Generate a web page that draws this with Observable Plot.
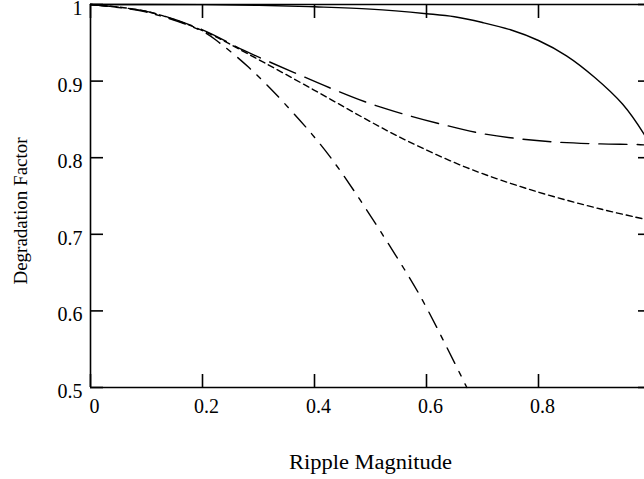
<!DOCTYPE html>
<html><head><meta charset="utf-8">
<script src="https://cdn.jsdelivr.net/npm/d3@7"></script>
<script src="https://cdn.jsdelivr.net/npm/@observablehq/plot@0.6"></script>
<style>html,body{margin:0;padding:0;background:#fff;overflow:hidden}</style>
</head><body><div id="chart"></div>
<script>
const xTicks = [0, 0.2, 0.4, 0.6, 0.8];
const yTicks = [0.5, 0.6, 0.7, 0.8, 0.9, 1];
const xLabel = "Ripple Magnitude";
const yLabel = "Degradation Factor";

// solid
const solidX = [0, 0.1, 0.2, 0.3, 0.4, 0.5, 0.6, 0.65, 0.7, 0.75, 0.8, 0.85, 0.9, 0.95, 0.989, 1];
const solidY = [1, 1, 0.9998, 0.999, 0.997, 0.994, 0.988, 0.984, 0.9765, 0.967, 0.953, 0.933, 0.905, 0.87, 0.83, 0.815];
// long dashed
const longX = [0, 0.1, 0.2, 0.274, 0.3625, 0.428, 0.494, 0.559, 0.625, 0.696, 0.768, 0.839, 0.911, 0.982, 1];
const longY = [1, 0.991, 0.967, 0.940, 0.9115, 0.891, 0.872, 0.857, 0.844, 0.832, 0.8245, 0.820, 0.818, 0.817, 0.816];
// short dashed
const shortX = [0, 0.1, 0.2, 0.28, 0.4, 0.5, 0.5655, 0.672, 0.791, 0.911, 0.988, 1];
const shortY = [1, 0.991, 0.966, 0.936, 0.888, 0.847, 0.822, 0.787, 0.757, 0.733, 0.720, 0.718];
// dash-dot
const ddX = [0, 0.1, 0.2, 0.232, 0.2825, 0.345, 0.429, 0.559, 0.598, 0.672];
const ddY = [1, 0.99, 0.965, 0.949, 0.918, 0.872, 0.80, 0.656, 0.607, 0.5];

const toRows = (xs, ys) => xs.map((x, i) => ({x, y: ys[i]}));
const font = "'Liberation Serif', 'Times New Roman', serif";
const lw = 1.4;

const chart = Plot.plot({
  width: 644,
  height: 479,
  marginLeft: 90,
  marginRight: -6,
  marginTop: 4,
  marginBottom: 92,
  style: {fontFamily: font, fontSize: "20px", color: "black", background: "white", overflow: "hidden"},
  x: {domain: [0, 1], axis: null},
  y: {domain: [0.5, 1], axis: null},
  marks: [
    Plot.line(toRows(solidX, solidY), {x: "x", y: "y", curve: "catmull-rom", stroke: "black", strokeWidth: lw}),
    Plot.line(toRows(longX, longY), {x: "x", y: "y", curve: "catmull-rom", stroke: "black", strokeWidth: lw, strokeDasharray: "28,10"}),
    Plot.line(toRows(shortX, shortY), {x: "x", y: "y", curve: "catmull-rom", stroke: "black", strokeWidth: lw, strokeDasharray: "6,4"}),
    Plot.line(toRows(ddX, ddY), {x: "x", y: "y", curve: "catmull-rom", stroke: "black", strokeWidth: lw, strokeDasharray: "17,9,5,9"}),
    Plot.ruleY([0.5, 1], {stroke: "black", strokeWidth: 1.6}),
    Plot.ruleX([0], {stroke: "black", strokeWidth: 1.6}),
    Plot.axisY(yTicks, {anchor: "left", tickSize: -13, fill: "none", label: null, strokeWidth: 1.6}),
    Plot.axisY(yTicks, {anchor: "right", tickSize: -13, fill: "none", label: null, strokeWidth: 1.6}),
    Plot.axisX(xTicks, {anchor: "bottom", tickSize: -13, fill: "none", label: null, strokeWidth: 1.6}),
    Plot.axisX(xTicks, {anchor: "top", tickSize: -13, fill: "none", label: null, strokeWidth: 1.6}),
    Plot.axisY(yTicks, {anchor: "left", tickSize: 0, tickPadding: 8, dy: 4, label: null, tickFormat: d => String(d), fontSize: 20}),
    Plot.axisX(xTicks, {anchor: "bottom", tickSize: 0, tickPadding: 11, dx: 4, label: null, tickFormat: d => String(d), fontSize: 20}),
    Plot.text([xLabel], {frameAnchor: "bottom", text: d => d, textAnchor: "middle", lineAnchor: "top", dy: 67, fontSize: 20}),
    Plot.text([yLabel], {frameAnchor: "left", text: d => d, textAnchor: "middle", rotate: -90, dx: -70, dy: 15, fontSize: 19})
  ]
});
document.getElementById("chart").appendChild(chart);
d3.select(chart).selectAll("text").filter(function() { return this.textContent === xLabel; })
  .attr("textLength", 163).attr("lengthAdjust", "spacingAndGlyphs");
</script>
</body></html>
